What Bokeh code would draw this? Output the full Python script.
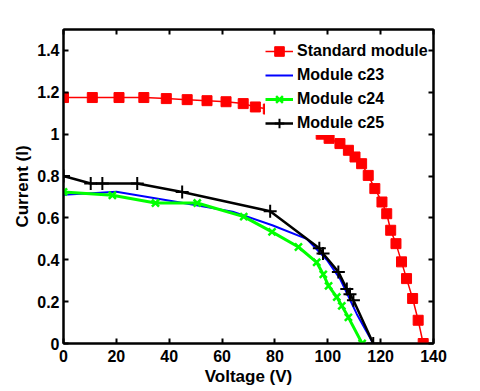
from bokeh.plotting import figure
from bokeh.models import Range1d, LinearAxis, FixedTicker, Legend, LegendItem, CustomJSTickFormatter
from bokeh.embed import file_html
from bokeh.resources import INLINE

# ---- data ----
std_v = [0, 10.9, 21, 30.4, 38.9, 46.8, 54.3, 61.5, 68, 72.6, 77.5, 82, 86.5, 90.5, 94, 97.5,
         100.5, 104.6, 107.8, 110.3, 112.8, 115.3, 117.8, 120.5, 122.3, 123.8, 125.8, 127.9,
         129.8, 132.1, 134.2, 136.1]
std_i = [1.175, 1.175, 1.175, 1.175, 1.17, 1.165, 1.16, 1.155, 1.146, 1.13, 1.12, 1.10, 1.08,
         1.055, 1.03, 1.0, 0.98, 0.955, 0.923, 0.891, 0.859, 0.803, 0.740, 0.676, 0.62, 0.541,
         0.477, 0.39, 0.31, 0.215, 0.111, 0.0]

c23_v = [0, 20, 47, 64, 79, 92, 99.6, 104.6, 111, 117.2]
c23_i = [0.71, 0.725, 0.668, 0.63, 0.565, 0.50, 0.40, 0.31, 0.14, 0.0]

c24_v = [0, 18.5, 34.8, 50.6, 68.2, 78.9, 88.9, 95.8, 98.3, 100.3, 103.4, 105.3, 107.8, 113]
c24_i = [0.724, 0.708, 0.671, 0.671, 0.606, 0.533, 0.461, 0.388, 0.33, 0.275, 0.222, 0.18, 0.125, 0.0]

c25_v = [0, 10.3, 14.7, 27.9, 44.9, 78.2, 96.8, 98.2, 104, 107.2, 108.4, 109.7, 117.2]
c25_i = [0.80, 0.764, 0.764, 0.764, 0.724, 0.632, 0.455, 0.43, 0.342, 0.26, 0.235, 0.207, 0.0]

x_ticks = [0, 20, 40, 60, 80, 100, 120, 140]
x_tick_labels = ["0", "20", "40", "60", "80", "100", "120", "140"]
y_ticks = [0, 0.2, 0.4, 0.6, 0.8, 1, 1.2, 1.4]
y_tick_labels = ["0", "0.2", "0.4", "0.6", "0.8", "1", "1.2", "1.4"]

series_names = ["Standard module", "Module c23", "Module c24", "Module c25"]

FONT = "Liberation Sans"

p = figure(width=472, height=391, output_backend="svg", toolbar_location=None,
           x_range=Range1d(0, 140), y_range=Range1d(0, 1.5),
           min_border_left=63, min_border_right=39, min_border_top=29, min_border_bottom=48)
p.background_fill_color = "white"
p.border_fill_color = "white"
p.xgrid.visible = False
p.ygrid.visible = False
p.outline_line_color = "black"
p.outline_line_width = 2

def style_axis(ax, ticks, labels, show_labels):
    ax.ticker = FixedTicker(ticks=ticks)
    ax.axis_line_width = 2
    ax.axis_line_color = "black"
    ax.major_tick_in = 5
    ax.major_tick_out = 0
    ax.major_tick_line_width = 2
    ax.minor_tick_in = 0
    ax.minor_tick_out = 0
    if show_labels:
        ax.major_label_overrides = dict(zip(ticks, labels))
        ax.major_label_text_font = FONT
        ax.major_label_text_font_style = "bold"
        ax.major_label_text_font_size = "16px"
        ax.major_label_text_color = "black"
    else:
        ax.formatter = CustomJSTickFormatter(code="return ''")
        ax.major_label_standoff = 0
        ax.major_label_text_font_size = "1px"

xa = p.xaxis[0]
ya = p.yaxis[0]
style_axis(xa, x_ticks, x_tick_labels, True)
style_axis(ya, y_ticks, y_tick_labels, True)
xa.major_label_standoff = 6
ya.major_label_standoff = 4
xa.axis_label = "Voltage (V)"
ya.axis_label = "Current (I)"
for ax in (xa, ya):
    ax.axis_label_text_font = FONT
    ax.axis_label_text_font_style = "bold"
    ax.axis_label_text_font_size = "17px"
    ax.axis_label_text_color = "black"
    ax.axis_label_standoff = 2

top = LinearAxis()
right = LinearAxis()
style_axis(top, x_ticks, x_tick_labels, False)
style_axis(right, y_ticks, y_tick_labels, False)
p.add_layout(top, "above")
p.add_layout(right, "right")

# ---- series ----
r_std_l = p.line(std_v, std_i, line_color="red", line_width=1.5)
r_std_m = p.scatter(std_v, std_i, marker="square", size=10, fill_color="red", line_color="red", line_width=1)

r_c23_l = p.line(c23_v, c23_i, line_color="blue", line_width=2)

r_c24_l = p.line(c24_v, c24_i, line_color="#00ff00", line_width=3)
r_c24_m = p.scatter(c24_v, c24_i, marker="x", size=10, line_color="#00ff00", line_width=2.5)

r_c25_l = p.line(c25_v, c25_i, line_color="black", line_width=2.5)
r_c25_m = p.scatter(c25_v, c25_i, marker="cross", size=13, line_color="black", line_width=2)

legend = Legend(items=[
    LegendItem(label=series_names[0], renderers=[r_std_l, r_std_m]),
    LegendItem(label=series_names[1], renderers=[r_c23_l]),
    LegendItem(label=series_names[2], renderers=[r_c24_l, r_c24_m]),
    LegendItem(label=series_names[3], renderers=[r_c25_l, r_c25_m]),
], location=(202, 208))
legend.border_line_color = None
legend.background_fill_color = "white"
legend.background_fill_alpha = 1.0
legend.padding = 2
legend.margin = 0
legend.spacing = 0
legend.glyph_width = 28
legend.glyph_height = 24
legend.label_height = 24
legend.label_standoff = 4
legend.label_text_font = FONT
legend.label_text_font_style = "bold"
legend.label_text_font_size = "16px"
legend.label_text_color = "black"
p.add_layout(legend, "center")

open("out.html", "w").write(file_html(p, INLINE))
